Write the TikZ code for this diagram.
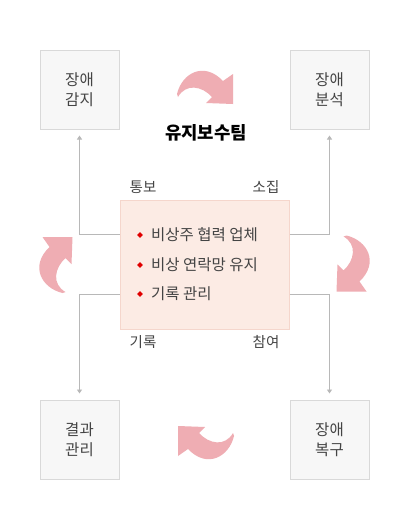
\documentclass[tikz,border=0pt]{standalone}
\usepackage{fontspec}
\setmainfont{Noto Sans CJK KR}
\usetikzlibrary{arrows.meta,shapes.geometric}
\definecolor{boxfill}{HTML}{F7F7F7}
\definecolor{boxline}{HTML}{D9D9D9}
\definecolor{linkgray}{HTML}{B8B8B8}
\definecolor{cfill}{HTML}{FCEBE4}
\definecolor{cline}{HTML}{F5D6CC}
\definecolor{apink}{HTML}{EFADB3}
\definecolor{txt}{HTML}{444444}
\definecolor{bred}{HTML}{E00000}
\tikzset{
  pbox/.style={draw=boxline,fill=boxfill,line width=1pt,minimum width=79pt,minimum height=79pt,inner sep=0pt,
    align=center,font=\fontsize{15.5}{20}\selectfont,text=txt},
  cbox/.style={draw=cline,fill=cfill,line width=1pt,minimum width=169pt,minimum height=129pt,inner sep=0pt},
  link/.style={draw=linkgray,line width=0.8pt,-{Triangle[width=5pt,length=4pt]}},
  lbl/.style={font=\fontsize{14.5}{16}\selectfont,text=txt,inner sep=0pt},
  item/.style={font=\fontsize{15.5}{18}\selectfont,text=txt,anchor=west,inner sep=0pt},
  dia/.style={diamond,fill=bred,inner sep=0pt,minimum size=6pt},
}
\newcommand\pinkarrow[3]{%
  \fill[apink,shift={(#1,#2)},rotate=#3]
    (-29,5) .. controls (-24,-16) and (-2,-28) .. (17,-8) -- (27,-15) -- (27,15)
    -- (0,14) -- (6,8) .. controls (-4,-3) and (-20,-6) .. (-28,8) -- cycle;}
\begin{document}
\begin{tikzpicture}[x=1pt,y=-1pt]
\useasboundingbox (0,0) rectangle (410,530);
\fill[white] (0,0) rectangle (410,530);
\node[pbox] (tl) at (79.5,89.5) {장애\\감지};
\node[pbox] (tr) at (329.5,89.5) {장애\\분석};
\node[pbox] (bl) at (79.5,439.5) {결과\\관리};
\node[pbox] (br) at (329.5,439.5) {장애\\복구};
\node[cbox] (cb) at (204.5,264.5) {};
\node[font=\bfseries\fontsize{17.8}{20}\selectfont,text=black] (title) at (206,133) {유지보수팀};
\draw[link] ([yshift=-35pt]cb.north west) -| ([yshift=-6pt]tl.south);
\draw[link] ([yshift=-35pt]cb.north east) -| ([yshift=-6pt]tr.south);
\draw[link] ([yshift=35pt]cb.south west) -| ([yshift=6pt]bl.north);
\draw[link] ([yshift=35pt]cb.south east) -| ([yshift=6pt]br.north);
\node[lbl] (l1) at (143,187) {통보};
\node[lbl] (l2) at (266,187) {소집};
\node[lbl] (l3) at (143,342) {기록};
\node[lbl] (l4) at (266,342) {참여};
\node[dia] (d1) at (140,235) {};
\node[dia] (d2) at (140,265) {};
\node[dia] (d3) at (140,294) {};
\node[item] (i1) at (151,235) {비상주 협력 업체};
\node[item] (i2) at (151,265) {비상 연락망 유지};
\node[item] (i3) at (151,294) {기록 관리};
\pinkarrow{206}{89}{0}
\pinkarrow{351.5}{264.5}{-90}
\pinkarrow{205}{441}{180}
\pinkarrow{57.5}{264}{90}
\end{tikzpicture}
\end{document}
